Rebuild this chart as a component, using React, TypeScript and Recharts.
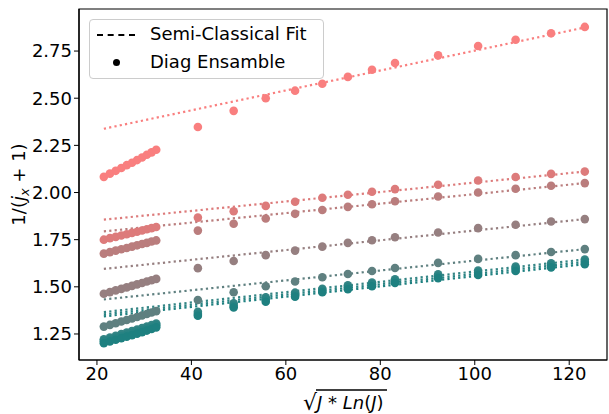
import React from 'react';
import { ComposedChart, Scatter, XAxis, YAxis, ReferenceArea } from 'recharts';

// sqrt(J*Ln(J)) positions of the computed points
const X_VALUES = [
  21.46, 22.74, 23.97, 25.16, 26.3, 27.42, 28.5, 29.55, 30.57, 31.57, 32.55,
  41.37, 48.95, 55.74, 61.95, 67.72, 73.13, 78.24, 83.11, 92.24, 100.71, 108.65, 116.16, 123.3
];

// Diag ensamble values, one array per curve (top to bottom)
const SALMON = [2.083, 2.1, 2.115, 2.13, 2.145, 2.158, 2.172, 2.186, 2.2, 2.213, 2.227, 2.347, 2.433, 2.5, 2.54, 2.577, 2.613, 2.651, 2.687, 2.727, 2.777, 2.81, 2.844, 2.878];
const PINK = [1.75, 1.758, 1.765, 1.772, 1.779, 1.786, 1.792, 1.799, 1.805, 1.811, 1.817, 1.867, 1.901, 1.929, 1.951, 1.972, 1.988, 2.004, 2.018, 2.041, 2.064, 2.082, 2.099, 2.111];
const MAUVE = [1.676, 1.684, 1.692, 1.699, 1.706, 1.713, 1.72, 1.727, 1.733, 1.74, 1.746, 1.798, 1.834, 1.862, 1.887, 1.907, 1.924, 1.938, 1.954, 1.979, 2.0, 2.02, 2.036, 2.05];
const GRAY = [1.463, 1.472, 1.481, 1.489, 1.497, 1.505, 1.513, 1.52, 1.528, 1.535, 1.542, 1.599, 1.637, 1.668, 1.692, 1.713, 1.733, 1.747, 1.763, 1.788, 1.811, 1.829, 1.846, 1.859];
const GRAY_TEAL = [1.289, 1.298, 1.307, 1.316, 1.324, 1.332, 1.34, 1.348, 1.356, 1.364, 1.371, 1.43, 1.471, 1.503, 1.528, 1.551, 1.568, 1.584, 1.6, 1.627, 1.648, 1.668, 1.685, 1.7];
const TEAL_A = [1.222, 1.231, 1.24, 1.249, 1.257, 1.265, 1.273, 1.281, 1.289, 1.297, 1.305, 1.368, 1.413, 1.445, 1.469, 1.49, 1.508, 1.523, 1.54, 1.567, 1.586, 1.607, 1.625, 1.645];
const TEAL_B = [1.212, 1.221, 1.23, 1.239, 1.247, 1.255, 1.263, 1.271, 1.279, 1.287, 1.296, 1.356, 1.399, 1.434, 1.459, 1.48, 1.498, 1.513, 1.53, 1.554, 1.575, 1.597, 1.615, 1.632];
const TEAL_C = [1.201, 1.21, 1.219, 1.228, 1.236, 1.244, 1.252, 1.26, 1.268, 1.276, 1.285, 1.347, 1.39, 1.421, 1.448, 1.471, 1.487, 1.503, 1.52, 1.546, 1.563, 1.584, 1.603, 1.62];

// semi-classical fit: straight line between the two ends
const FIT_X = [21.46, 123.3];
const FIT_START = [2.338, 1.856, 1.794, 1.595, 1.433, 1.366, 1.354, 1.343];
const FIT_END = [2.875, 2.111, 2.05, 1.859, 1.7, 1.645, 1.632, 1.62];

const COLORS = ['#f97f7f', '#dd7b7b', '#ba7d7d', '#967f80', '#5f8080', '#348585', '#288383', '#1e8080'];

const X_DOMAIN = [16.2, 128];
const Y_DOMAIN = [1.112, 2.973];
const X_TICKS = [20, 40, 60, 80, 100, 120];
const Y_TICKS = [1.25, 1.5, 1.75, 2.0, 2.25, 2.5, 2.75];

const SERIES = [SALMON, PINK, MAUVE, GRAY, GRAY_TEAL, TEAL_A, TEAL_B, TEAL_C];

const FONT = '"DejaVu Sans", sans-serif';

const tickStyle = { fontSize: 18, fill: '#000', fontFamily: FONT };

const App: React.FC = () => {
  const points = SERIES.map((ys) => ys.map((y, i) => ({ x: X_VALUES[i], y })));
  const fits = FIT_START.map((y0, i) => [
    { x: FIT_X[0], y: y0 },
    { x: FIT_X[1], y: FIT_END[i] },
  ]);

  return (
    <div style={{ position: 'absolute', left: 0, top: 0, width: 609, height: 414, background: '#fff', fontFamily: FONT }}>
      <ComposedChart width={609} height={414} margin={{ top: 9, right: 2, bottom: 0, left: 0 }}>
        <XAxis
          type="number"
          dataKey="x"
          domain={X_DOMAIN}
          ticks={X_TICKS}
          allowDataOverflow
          height={54}
          tick={tickStyle}
          tickSize={5}
          tickMargin={2}
          axisLine={{ stroke: '#000', strokeWidth: 1.2 }}
          tickLine={{ stroke: '#000' }}
          label={{
            content: (props: any) => {
              const vb = props.viewBox;
              const cx = vb.x + vb.width / 2;
              return (
                <g fontFamily={FONT} fontSize={18} fill="#000">
                  <text x={cx - 40} y={vb.y + 50} fontSize={22}>√</text>
                  <line x1={cx - 27} y1={vb.y + 30} x2={cx + 44} y2={vb.y + 30} stroke="#000" strokeWidth={1.5} />
                  <text x={cx - 26} y={vb.y + 49}>
                    <tspan fontStyle="italic">J</tspan>
                    <tspan> * </tspan>
                    <tspan fontStyle="italic">Ln</tspan>
                    <tspan>(</tspan>
                    <tspan fontStyle="italic">J</tspan>
                    <tspan>)</tspan>
                  </text>
                </g>
              );
            },
          }}
        />
        <YAxis
          type="number"
          dataKey="y"
          domain={Y_DOMAIN}
          ticks={Y_TICKS}
          allowDataOverflow
          width={79}
          tick={tickStyle}
          tickSize={5}
          tickMargin={2}
          tickFormatter={(v: number) => v.toFixed(2)}
          axisLine={{ stroke: '#000', strokeWidth: 1.2 }}
          tickLine={{ stroke: '#000' }}
          label={{
            content: (props: any) => {
              const vb = props.viewBox;
              const cy = vb.y + vb.height / 2;
              return (
                <text
                  x={25}
                  y={cy}
                  transform={`rotate(-90 25 ${cy})`}
                  textAnchor="middle"
                  fontFamily={FONT}
                  fontSize={18}
                  fill="#000"
                >
                  <tspan>1/(</tspan>
                  <tspan fontStyle="italic">j</tspan>
                  <tspan fontStyle="italic" fontSize={13} dy={4}>x</tspan>
                  <tspan dy={-4}> + 1)</tspan>
                </text>
              );
            },
          }}
        />

        {/* frame around the plot area */}
        <ReferenceArea
          x1={X_DOMAIN[0]}
          x2={X_DOMAIN[1]}
          y1={Y_DOMAIN[0]}
          y2={Y_DOMAIN[1]}
          fill="none"
          fillOpacity={0}
          stroke="#000"
          strokeWidth={1.2}
          ifOverflow="visible"
        />

        {fits.map((d, i) => (
          <Scatter
            key={`fit-${i}`}
            data={d}
            isAnimationActive={false}
            line={{ stroke: COLORS[i], strokeWidth: 2.2, strokeDasharray: '2.2 3.2' }}
            lineType="joint"
            shape={() => <g />}
          />
        ))}
        {points.map((d, i) => (
          <Scatter
            key={`pts-${i}`}
            data={d}
            isAnimationActive={false}
            shape={(p: any) => <circle cx={p.cx} cy={p.cy} r={4.3} fill={COLORS[i]} />}
          />
        ))}
      </ComposedChart>

      {/* legend box */}
      <div
        style={{
          position: 'absolute',
          left: 89,
          top: 19,
          width: 235,
          height: 60,
          border: '1px solid #cccccc',
          borderRadius: 4,
          background: 'rgba(255,255,255,0.8)',
          boxSizing: 'border-box',
          fontSize: 18,
          color: '#000',
        }}
      >
        <div style={{ position: 'absolute', left: 7, top: 14, width: 38, borderTop: '2px dashed #000' }} />
        <div style={{ position: 'absolute', left: 60, top: 2, lineHeight: '24px', whiteSpace: 'nowrap' }}>Semi-Classical Fit</div>
        <div style={{ position: 'absolute', left: 23, top: 39, width: 7, height: 7, borderRadius: '50%', background: '#000' }} />
        <div style={{ position: 'absolute', left: 60, top: 30, lineHeight: '24px', whiteSpace: 'nowrap' }}>Diag Ensamble</div>
      </div>
    </div>
  );
};

export default App;
